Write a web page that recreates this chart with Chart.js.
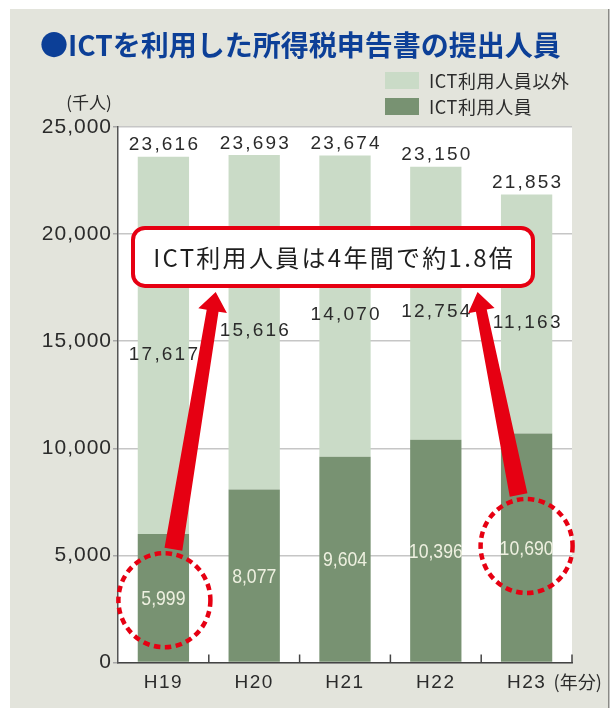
<!DOCTYPE html>
<html>
<head>
<meta charset="utf-8">
<script src="https://cdn.jsdelivr.net/npm/chart.js@4/dist/chart.umd.min.js"></script>
<style>
  html, body { margin: 0; padding: 0; background: #ffffff; }
  #wrap { position: absolute; left: 0; top: 0; width: 611px; height: 708px; }
</style>
</head>
<body>
<div id="wrap"><canvas id="c" width="611" height="708"></canvas></div>
<script>
// ---- data ----
const CATEGORIES = ['H19', 'H20', 'H21', 'H22', 'H23'];
const ICT_USERS = [5999, 8077, 9604, 10396, 10690];
const NON_ICT_USERS = [17617, 15616, 14070, 12754, 11163];
const TOTALS = [23616, 23693, 23674, 23150, 21853];
const Y_TICKS = [0, 5000, 10000, 15000, 20000, 25000];
const SERIES_LABELS = ['ICT利用人員', 'ICT利用人員以外'];
const TITLE = '●ICTを利用した所得税申告書の提出人員';
const Y_UNIT = '(千人)';
const X_UNIT = '(年分)';
const CALLOUT = 'ICT利用人員は4年間で約1.8倍';

const COLORS = { ict: '#789272', non: '#cadbc7', panel: '#e3e4dc', text: '#2b2b2b', title: '#0c3f97', red: '#e60012' };
const NUM_FONT = '"Liberation Sans", Arial, sans-serif';
const JP_FONT = '"Noto Sans CJK JP", "Noto Sans", sans-serif';
const fmt = v => v.toLocaleString('en-US');

function txt(ctx, s, x, y, font, color, align, spacing) {
  ctx.save();
  ctx.font = font;
  ctx.fillStyle = color;
  ctx.textBaseline = 'middle';
  ctx.letterSpacing = (spacing || 0) + 'px';
  let w = ctx.measureText(s).width;
  let sx = x;
  if (align === 'center') sx = x - (w - (spacing || 0)) / 2;
  else if (align === 'right') sx = x - (w - (spacing || 0));
  ctx.textAlign = 'left';
  ctx.fillText(s, sx, y);
  ctx.restore();
}

function drawArrow(ctx, x0, y0, x1, y1, w0, w1, hw, hl) {
  const dx = x1 - x0, dy = y1 - y0, len = Math.hypot(dx, dy);
  const ux = dx / len, uy = dy / len, px = -uy, py = ux;
  const bx = x1 - ux * hl, by = y1 - uy * hl;
  ctx.beginPath();
  ctx.moveTo(x0 + px * w0 / 2, y0 + py * w0 / 2);
  ctx.lineTo(bx + px * w1 / 2, by + py * w1 / 2);
  ctx.lineTo(bx + px * hw / 2, by + py * hw / 2);
  ctx.lineTo(x1, y1);
  ctx.lineTo(bx - px * hw / 2, by - py * hw / 2);
  ctx.lineTo(bx - px * w1 / 2, by - py * w1 / 2);
  ctx.lineTo(x0 - px * w0 / 2, y0 - py * w0 / 2);
  ctx.closePath();
  ctx.fill();
}

const decor = {
  id: 'decor',
  afterLayout(chart) {
    ['x', 'y'].forEach(id => {
      const s = chart.scales[id];
      if (s && !s._wrapped) {
        const orig = s.drawLabels.bind(s);
        const sp = id === 'x' ? '1.5px' : '1px';
        s.drawLabels = function (ca) {
          const c = chart.ctx; c.save(); c.letterSpacing = sp; orig(ca); c.restore();
        };
        s._wrapped = true;
      }
    });
  },
  beforeDraw(chart) {
    const ctx = chart.ctx, ca = chart.chartArea;
    ctx.save();
    ctx.fillStyle = '#ffffff';
    ctx.fillRect(0, 0, chart.width, chart.height);
    ctx.fillStyle = COLORS.panel;
    ctx.fillRect(10, 9, 598, chart.height - 9);
    ctx.fillStyle = '#8a8a86';
    ctx.fillRect(608, 9, 1.5, chart.height - 9);
    ctx.fillStyle = '#ffffff';
    ctx.fillRect(ca.left, ca.top, ca.right - ca.left, ca.bottom - ca.top);
    ctx.restore();
    // title
    txt(ctx, TITLE, 40, 45, 'bold 28px ' + JP_FONT, COLORS.title, 'left', 0);
    // legend (top: non-ICT, bottom: ICT)
    const ds = chart.data.datasets;
    const order = [1, 0];
    order.forEach((di, k) => {
      const y = 72 + k * 26;
      ctx.fillStyle = ds[di].backgroundColor;
      ctx.fillRect(385, y, 34, 17);
      txt(ctx, ds[di].label, 429, y + 9, '18px ' + JP_FONT, COLORS.text, 'left', 0.6);
    });
    // units
    txt(ctx, Y_UNIT, 89, 103, '17px ' + JP_FONT, COLORS.text, 'center', 0);
  },
  afterDatasetsDraw(chart) {
    const ctx = chart.ctx, xs = chart.scales.x, ys = chart.scales.y, ca = chart.chartArea;
    // x-axis inner tick marks at category boundaries
    const cw = (xs.right - xs.left) / CATEGORIES.length;
    ctx.save();
    ctx.strokeStyle = '#444';
    ctx.lineWidth = 1.5;
    for (let i = 1; i <= CATEGORIES.length; i++) {
      const bx = xs.getPixelForValue(i - 1) + cw / 2;
      ctx.beginPath();
      ctx.moveTo(bx, ca.bottom);
      ctx.lineTo(bx, ca.bottom - 8);
      ctx.stroke();
    }
    ctx.restore();
    // data labels
    const labFont = '19px ' + NUM_FONT;
    CATEGORIES.forEach((c, i) => {
      const cx = xs.getPixelForValue(i);
      // totals
      txt(ctx, fmt(TOTALS[i]), cx, ys.getPixelForValue(TOTALS[i]) - 11.5, labFont, COLORS.text, 'center', 2.2);
      // non-ICT segment
      const midNon = ys.getPixelForValue(ICT_USERS[i] + NON_ICT_USERS[i] / 2) + 9;
      txt(ctx, fmt(NON_ICT_USERS[i]), cx, midNon, labFont, COLORS.text, 'center', 2.2);
      // ICT segment (condensed, light text)
      const midIct = ys.getPixelForValue(ICT_USERS[i] / 2);
      ctx.save();
      ctx.translate(cx, midIct);
      ctx.scale(0.84, 1);
      ctx.font = '21px ' + NUM_FONT;
      ctx.fillStyle = '#eef0e0';
      ctx.textAlign = 'center';
      ctx.textBaseline = 'middle';
      ctx.fillText(fmt(ICT_USERS[i]), 0, 1);
      ctx.restore();
    });
    // x unit after last label
    const lastX = xs.getPixelForValue(CATEGORIES.length - 1);
    txt(ctx, X_UNIT, lastX + 27, ca.bottom + 20, '18px ' + JP_FONT, COLORS.text, 'left', 0);
  },
  afterDraw(chart) {
    const ctx = chart.ctx, xs = chart.scales.x, ys = chart.scales.y, ca = chart.chartArea;
    const first = 0, last = CATEGORIES.length - 1;
    // callout box
    const bl = ca.left + 15, br = ca.right - 39;
    const bt = ys.getPixelForValue(20290), bb = ys.getPixelForValue(17580);
    // dashed circles
    const c1 = { x: xs.getPixelForValue(first) + 1, y: ys.getPixelForValue(ICT_USERS[first] / 2) + 2 };
    const c2 = { x: xs.getPixelForValue(last), y: ys.getPixelForValue(ICT_USERS[last] / 2) - 2 };
    ctx.save();
    ctx.strokeStyle = COLORS.red;
    ctx.lineWidth = 4.5;
    ctx.setLineDash([6.5, 4.5]);
    [c1, c2].forEach(c => {
      ctx.beginPath();
      ctx.ellipse(c.x, c.y, 46, 47, 0, 0, Math.PI * 2);
      ctx.stroke();
    });
    ctx.setLineDash([]);
    // arrows
    ctx.fillStyle = COLORS.red;
    drawArrow(ctx, c1.x + 9, c1.y - 51, xs.getPixelForValue(0.576), bb + 6, 18, 12, 29, 19);
    drawArrow(ctx, c2.x - 8, c2.y - 51, xs.getPixelForValue(3.46), bb + 6, 18, 11, 27, 19);
    // callout
    const r = 12;
    ctx.beginPath();
    ctx.roundRect(bl, bt, br - bl, bb - bt, r);
    ctx.fillStyle = '#ffffff';
    ctx.fill();
    ctx.lineWidth = 4;
    ctx.strokeStyle = COLORS.red;
    ctx.stroke();
    ctx.restore();
    txt(ctx, CALLOUT, (bl + br) / 2, (bt + bb) / 2 + 1, '24px ' + JP_FONT, '#1e1e1e', 'center', 2.3);
  }
};

new Chart(document.getElementById('c'), {
  type: 'bar',
  data: {
    labels: CATEGORIES,
    datasets: [
      { label: SERIES_LABELS[0], data: ICT_USERS, backgroundColor: COLORS.ict, stack: 's' },
      { label: SERIES_LABELS[1], data: NON_ICT_USERS, backgroundColor: COLORS.non, stack: 's' }
    ]
  },
  options: {
    responsive: false,
    animation: false,
    devicePixelRatio: 1,
    layout: { padding: { top: 127, right: 39, left: 0, bottom: 0 } },
    datasets: { bar: { barPercentage: 0.565, categoryPercentage: 1 } },
    plugins: { legend: { display: false }, title: { display: false }, tooltip: { enabled: false } },
    scales: {
      x: {
        stacked: true,
        afterFit: s => { s.height = 45.5; },
        grid: { display: false, drawTicks: false },
        border: { display: true, color: '#444', width: 1.5 },
        ticks: { color: COLORS.text, font: { family: NUM_FONT, size: 19 }, padding: 9 }
      },
      y: {
        stacked: true,
        min: 0,
        max: 25000,
        afterFit: s => { s.width = 118; },
        afterBuildTicks: s => { s.ticks = Y_TICKS.map(v => ({ value: v })); },
        grid: { color: '#c6c6c6', lineWidth: 1.5, tickLength: 5, tickColor: '#a8a8a8' },
        border: { display: true, color: '#555', width: 1.5 },
        ticks: { color: COLORS.text, font: { family: NUM_FONT, size: 21 }, padding: 1, callback: v => fmt(v) }
      }
    }
  },
  plugins: [decor]
});
</script>
</body>
</html>
